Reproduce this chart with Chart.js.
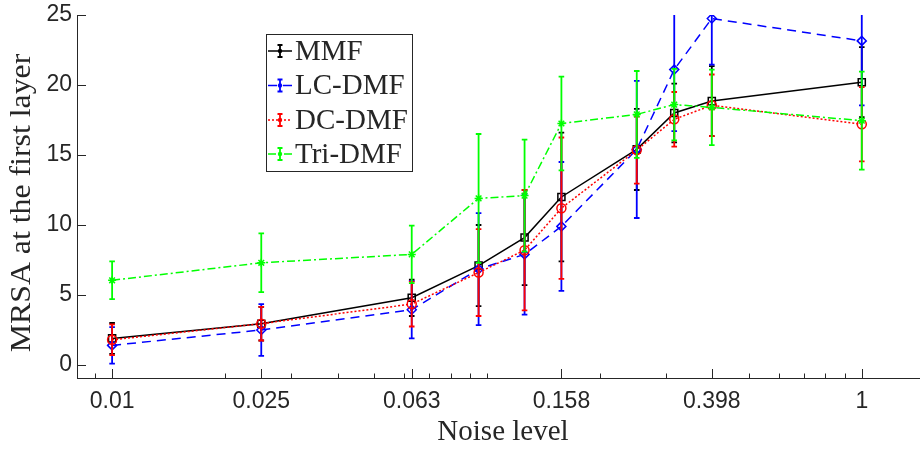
<!DOCTYPE html>
<html>
<head>
<meta charset="utf-8">
<script src="https://cdn.jsdelivr.net/npm/chart.js@4.4.1/dist/chart.umd.min.js"></script>
<style>
  html, body { margin: 0; padding: 0; background: #fff; }
  #wrap { width: 920px; height: 449px; }
</style>
</head>
<body>
<div id="wrap"><canvas id="grafica" width="920" height="449"></canvas></div>
<script>
// niveles de ruido (eje x logaritmico)
const noise = [0.01, 0.025, 0.063, 0.095, 0.126, 0.158, 0.251, 0.316, 0.398, 1];
const xTicks = [0.01, 0.025, 0.063, 0.158, 0.398, 1];
const xTickLabels = ["0.01", "0.025", "0.063", "0.158", "0.398", "1"];
const xMinorTicks = [0.009, 0.02, 0.03, 0.04, 0.05, 0.06, 0.07, 0.08, 0.09, 0.1, 0.2, 0.3, 0.5, 0.6, 0.7, 0.8, 0.9];
const yTicks = [0, 5, 10, 15, 20, 25];
const yTickLabels = ["0", "5", "10", "15", "20", "25"];

const seriesNames = ["MMF", "LC-DMF", "DC-DMF", "Tri-DMF"];

// medias y barras de error
const mmfMean = [1.9, 2.95, 4.8, 7.1, 9.1, 12.0, 15.4, 18.0, 18.85, 20.2];
const mmfErr  = [1.1, 1.2, 1.3, 2.9, 3.4, 4.6, 2.9, 2.1, 2.5, 2.5];
const lcMean  = [1.4, 2.5, 3.95, 6.85, 7.9, 9.9, 15.4, 21.1, 24.75, 23.15];
const lcErr   = [1.3, 1.85, 2.05, 4.0, 4.3, 4.6, 4.9, 4.4, 3.3, 4.6];
const dcMean  = [1.8, 2.95, 4.35, 6.6, 8.2, 11.2, 15.35, 17.55, 18.55, 17.2];
const dcErr   = [1.1, 1.2, 1.6, 3.1, 4.3, 5.05, 2.4, 1.95, 2.2, 2.65];
const triMean = [6.05, 7.3, 7.9, 11.9, 12.1, 17.25, 17.9, 18.6, 18.4, 17.45];
const triErr  = [1.35, 2.1, 2.05, 4.6, 4.0, 3.35, 3.1, 2.55, 2.7, 3.5];

const errores = [mmfErr, lcErr, dcErr, triErr];

function puntos(valores) {
    let res = [];
    for (let i = 0; i < noise.length; i++) {
        res.push({x: noise[i], y: valores[i]});
    }
    return res;
}

const GRIS = '#262626';

// texto con estiramiento opcional
function texto(ctx, s, x, y, font, sx, align, rot) {
    ctx.save();
    ctx.translate(x, y);
    if (rot) ctx.rotate(rot);
    ctx.scale(sx, 1);
    ctx.font = font;
    ctx.fillStyle = GRIS;
    ctx.textAlign = align;
    ctx.textBaseline = 'middle';
    ctx.fillText(s, 0, 0);
    ctx.restore();
}

const barrasError = {
    id: 'barrasError',
    afterDatasetDraw(chart, args) {
        const ctx = chart.ctx;
        const ds = chart.data.datasets[args.index];
        const err = errores[args.index];
        const xs = chart.scales.x, ys = chart.scales.y;
        const area = chart.chartArea;
        ctx.save();
        ctx.beginPath();
        ctx.rect(area.left, area.top, area.right - area.left, area.bottom - area.top);
        ctx.clip();
        ctx.strokeStyle = ds.borderColor;
        ctx.lineWidth = 1.8;
        ctx.setLineDash([]);
        for (let i = 0; i < ds.data.length; i++) {
            const px = xs.getPixelForValue(ds.data[i].x);
            const y1 = ys.getPixelForValue(ds.data[i].y + err[i]);
            const y2 = ys.getPixelForValue(ds.data[i].y - err[i]);
            ctx.beginPath();
            ctx.moveTo(px, y1); ctx.lineTo(px, y2);
            ctx.moveTo(px - 2.8, y1); ctx.lineTo(px + 2.8, y1);
            ctx.moveTo(px - 2.8, y2); ctx.lineTo(px + 2.8, y2);
            ctx.stroke();
        }
        ctx.restore();
    }
};

const ejes = {
    id: 'ejes',
    afterDraw(chart) {
        const ctx = chart.ctx;
        const xs = chart.scales.x, ys = chart.scales.y;
        const area = chart.chartArea;
        ctx.save();
        ctx.strokeStyle = GRIS;
        ctx.lineWidth = 1;
        ctx.beginPath();
        for (let v of xTicks) {
            const px = Math.round(xs.getPixelForValue(v)) + 0.5;
            ctx.moveTo(px, area.bottom); ctx.lineTo(px, area.bottom - 9);
        }
        for (let v of xMinorTicks) {
            const px = Math.round(xs.getPixelForValue(v)) + 0.5;
            ctx.moveTo(px, area.bottom); ctx.lineTo(px, area.bottom - 4.5);
        }
        for (let v of yTicks) {
            const py = Math.round(ys.getPixelForValue(v)) + 0.5;
            ctx.moveTo(area.left, py); ctx.lineTo(area.left + 9, py);
        }
        ctx.stroke();
        ctx.restore();

        for (let i = 0; i < xTicks.length; i++) {
            texto(ctx, xTickLabels[i], xs.getPixelForValue(xTicks[i]), 402, '23px "Liberation Sans"', 1, 'center');
        }
        for (let i = 0; i < yTicks.length; i++) {
            texto(ctx, yTickLabels[i], 72, ys.getPixelForValue(yTicks[i]), '23px "Liberation Sans"', 1, 'right');
        }
        texto(ctx, 'Noise level', 503, 432, '29px "Liberation Serif"', 1.0, 'center');
        texto(ctx, 'MRSA at the first layer', 22, 203, '30px "Liberation Serif"', 1.06, 'center', -Math.PI / 2);

        // leyenda
        const lx = 266, ly = 34, lw = 146, lh = 137;
        ctx.save();
        ctx.fillStyle = '#fff';
        ctx.fillRect(lx, ly, lw, lh);
        ctx.strokeStyle = GRIS;
        ctx.lineWidth = 1;
        ctx.strokeRect(lx + 0.5, ly + 0.5, lw, lh);
        const filas = [51, 85.5, 120, 154];
        chart.data.datasets.forEach(function (ds, i) {
            const cy = filas[i];
            ctx.strokeStyle = ds.borderColor;
            ctx.lineWidth = 1.5;
            ctx.setLineDash(ds.borderDash || []);
            ctx.beginPath();
            ctx.moveTo(268, cy); ctx.lineTo(292, cy);
            ctx.stroke();
            ctx.setLineDash([]);
            ctx.lineWidth = 1.8;
            ctx.beginPath();
            ctx.moveTo(280, cy - 6); ctx.lineTo(280, cy + 6);
            ctx.moveTo(277.5, cy - 6); ctx.lineTo(282.5, cy - 6);
            ctx.moveTo(277.5, cy + 6); ctx.lineTo(282.5, cy + 6);
            ctx.stroke();
            ctx.fillStyle = ds.borderColor;
            ctx.beginPath();
            ctx.arc(280, cy, 2.2, 0, Math.PI * 2);
            ctx.fill();
            texto(ctx, ds.label, 295, cy + 1, '29px "Liberation Serif"', 1, 'left');
        });
        ctx.restore();
    }
};

const ctx = document.getElementById('grafica').getContext('2d');
const grafica = new Chart(ctx, {
    type: 'line',
    data: {
        datasets: [{
            label: seriesNames[0],
            data: puntos(mmfMean),
            borderColor: '#000000',
            borderWidth: 1.5,
            pointStyle: 'rect',
            pointRadius: 5,
            pointBorderWidth: 1.5,
            pointBackgroundColor: 'rgba(0,0,0,0)',
            pointBorderColor: '#000000',
            order: 3
        }, {
            label: seriesNames[1],
            data: puntos(lcMean),
            borderColor: '#0000ff',
            borderWidth: 1.5,
            borderDash: [9, 6],
            pointStyle: 'rectRot',
            pointRadius: 4.5,
            pointBorderWidth: 1.5,
            pointBackgroundColor: 'rgba(0,0,0,0)',
            pointBorderColor: '#0000ff',
            order: 2
        }, {
            label: seriesNames[2],
            data: puntos(dcMean),
            borderColor: '#ff0000',
            borderWidth: 1.5,
            borderDash: [2, 2],
            pointStyle: 'circle',
            pointRadius: 4.5,
            pointBorderWidth: 1.5,
            pointBackgroundColor: 'rgba(0,0,0,0)',
            pointBorderColor: '#ff0000',
            order: 1
        }, {
            label: seriesNames[3],
            data: puntos(triMean),
            borderColor: '#00ff00',
            borderWidth: 1.5,
            borderDash: [8, 3, 2, 3],
            pointStyle: 'star',
            pointRadius: 4,
            pointBorderWidth: 1.5,
            pointBackgroundColor: 'rgba(0,0,0,0)',
            pointBorderColor: '#00ff00',
            order: 0
        }]
    },
    options: {
        responsive: false,
        animation: false,
        layout: { autoPadding: false, padding: { top: 15, left: 0, right: 0, bottom: 0 } },
        plugins: { legend: { display: false }, tooltip: { enabled: false } },
        elements: { line: { tension: 0, fill: false } },
        scales: {
            x: {
                type: 'logarithmic',
                min: 0.00806,
                max: 1.43,
                ticks: { display: false },
                grid: { display: false },
                border: { display: true, color: GRIS, width: 1 },
                afterFit: function (s) { s.height = 71; }
            },
            y: {
                type: 'linear',
                min: -0.93,
                max: 25,
                ticks: { display: false },
                grid: { display: false },
                border: { display: true, color: GRIS, width: 1 },
                afterFit: function (s) { s.width = 77; }
            }
        }
    },
    plugins: [barrasError, ejes]
});
</script>
</body>
</html>
